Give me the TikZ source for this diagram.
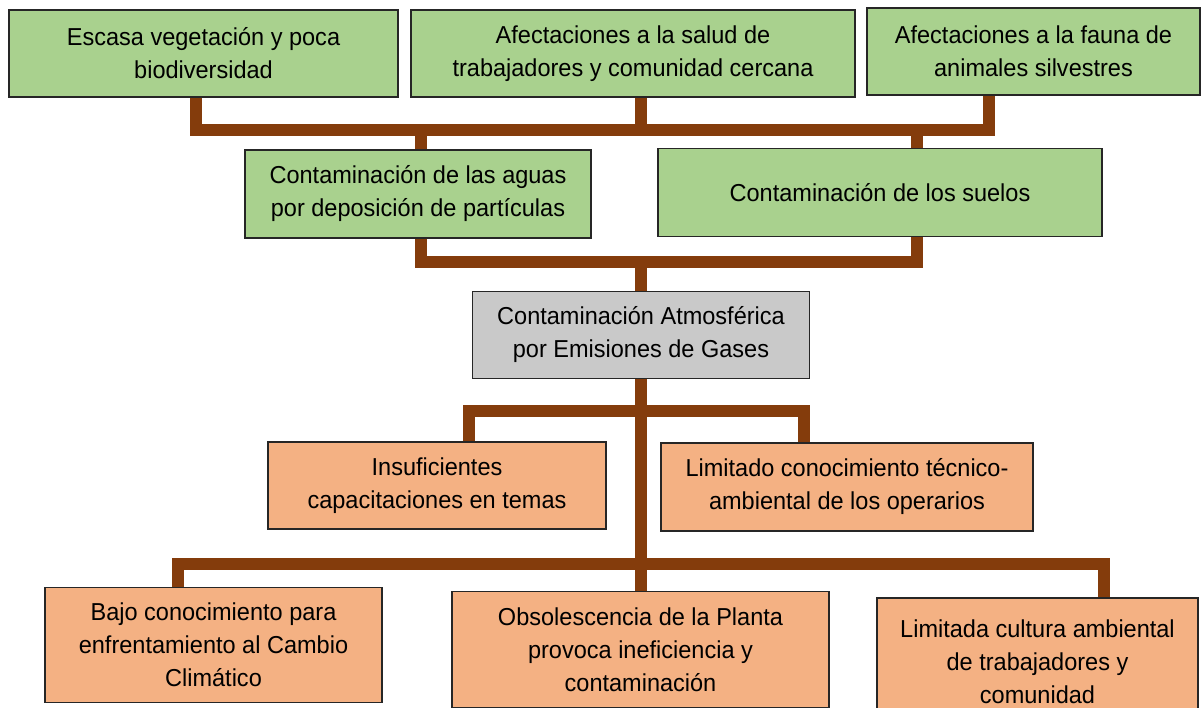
\documentclass[tikz,border=0pt]{standalone}
\usepackage{fontspec}
\setmainfont{Liberation Sans}[FakeStretch=0.96]
\definecolor{boxgreen}{HTML}{A9D18E}
\definecolor{boxgray}{HTML}{C9C9C9}
\definecolor{boxorange}{HTML}{F4B183}
\definecolor{branch}{HTML}{843C0C}
\definecolor{edge}{HTML}{262626}
\tikzset{
  base/.style={draw=edge, line width=1.3pt, align=center, inner sep=0pt,
    font=\fontsize{24.5pt}{33pt}\selectfont, text=black},
  effect/.style={base, fill=boxgreen},
  problem/.style={base, fill=boxgray},
  cause/.style={base, fill=boxorange},
  conn/.style={draw=branch, line width=11.5pt, line cap=butt, line join=miter},
}
\begin{document}
\begin{tikzpicture}[x=1pt,y=-1pt]
\useasboundingbox (0,0) rectangle (1202,708);
\clip (0,0) rectangle (1202,708);
% junction points of the connectors
\coordinate (t1) at (196,130);
\coordinate (t2) at (641,130);
\coordinate (t3) at (989,130);
\coordinate (d4) at (421,130);
\coordinate (d5) at (917,130);
\coordinate (m1) at (421,262);
\coordinate (m2) at (917,262);
\coordinate (mc) at (641,262);
\coordinate (u1) at (469,411);
\coordinate (u2) at (804,411);
\coordinate (uc) at (641,411);
\coordinate (l1) at (178,564);
\coordinate (l3) at (1104,564);
\coordinate (lc) at (641,564);

% boxes
\node[effect, minimum width=389pt, minimum height=87pt] (b1) at (203.5,53.5) {Escasa vegetación y poca\\biodiversidad};
\node[effect, minimum width=444pt, minimum height=87pt] (b2) at (633,53.5) {Afectaciones a la salud de\\trabajadores y comunidad cercana};
\node[effect, minimum width=333pt, minimum height=87pt] (b3) at (1033.5,51.5) {Afectaciones a la fauna de\\animales silvestres};
\node[effect, minimum width=346pt, minimum height=88pt] (b4) at (418,194) {Contaminación de las aguas\\por deposición de partículas};
\node[effect, minimum width=444pt, minimum height=88pt] (b5) at (880,192.5) {Contaminación de los suelos};
\node[problem, minimum width=337pt, minimum height=87pt] (p) at (641,335) {Contaminación Atmosférica\\por Emisiones de Gases};
\node[cause, minimum width=338pt, minimum height=87pt] (c1) at (437,485.5) {Insuficientes\\capacitaciones en temas};
\node[cause, minimum width=372pt, minimum height=88pt] (c2) at (847,487) {Limitado conocimiento técnico-\\ambiental de los operarios};
\node[cause, minimum width=337pt, minimum height=115pt] (c3) at (213.5,645) {Bajo conocimiento para\\enfrentamiento al Cambio\\Climático};
\node[cause, minimum width=377pt, minimum height=116pt] (c4) at (640.5,649.5) {Obsolescencia de la Planta\\provoca ineficiencia y\\contaminación};
\node[cause, minimum width=321pt, minimum height=128pt] (c5) at (1037.5,662) {Limitada cultura ambiental\\de trabajadores y\\comunidad};

% connectors
\draw[conn] (b1.south -| t1) -- (t1) -- (t3) -- (b3.south -| t3);
\draw[conn] (b2.south -| t2) -- (t2);
\draw[conn] (d4) -- (b4.north -| d4);
\draw[conn] (d5) -- (b5.north -| d5);
\draw[conn] (b4.south -| m1) -- (m1) -- (m2) -- (b5.south -| m2);
\draw[conn] (mc) -- (p.north -| mc);
\draw[conn] (c1.north -| u1) -- (u1) -- (u2) -- (c2.north -| u2);
\draw[conn] (p.south -| uc) -- (c4.north -| lc);
\draw[conn] (c3.north -| l1) -- (l1) -- (l3) -- (c5.north -| l3);
\end{tikzpicture}
\end{document}
